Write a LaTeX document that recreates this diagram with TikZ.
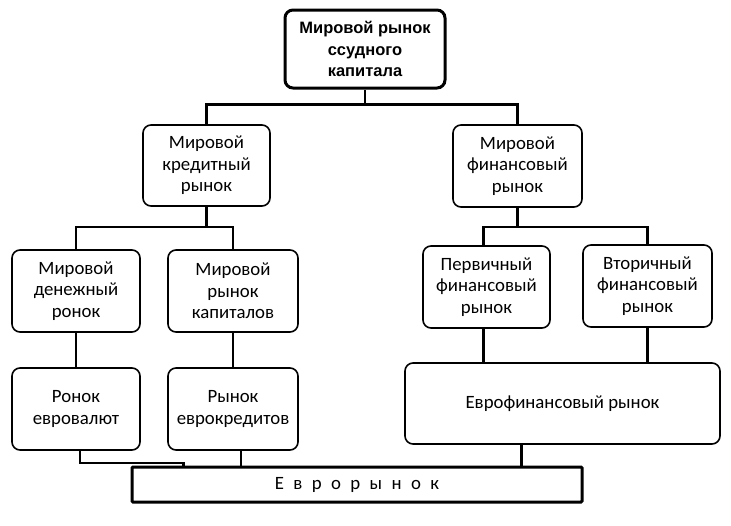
\documentclass[tikz,border=0pt]{standalone}
\usepackage{fontspec}
\setmainfont{Carlito}
\newfontfamily\headfont{Liberation Sans}
\usepackage{tikz}

\tikzset{
  box/.style={draw=black, line width=1.6pt, rounded corners=8pt, align=center,
    font=\fontsize{18.8}{21.5}\selectfont, inner sep=0pt},
  headbox/.style={box, line width=3pt, font=\headfont\bfseries\fontsize{16.5}{21.5}\selectfont},
  eurobox/.style={draw=black, line width=3pt, rounded corners=1pt, inner sep=0pt,
    font=\fontsize{18.8}{21.5}\selectfont},
  conn/.style={draw=black, line width=2.6pt}
}

\begin{document}
\begin{tikzpicture}[x=1pt, y=-1pt]
        \useasboundingbox (0,0) rectangle (731,525);
        % top level
        \node[headbox, minimum width=160, minimum height=78] (world) at (365,49)
        {Мировой рынок\\ссудного\\капитала};
        \node[box, minimum width=127, minimum height=81] (credit) at (206.5,165.5)
        {Мировой\\кредитный\\рынок};
        \node[box, minimum width=129, minimum height=82] (finance) at (517.5,166)
        {Мировой\\финансовый\\рынок};
        % third row
        \node[box, minimum width=128, minimum height=82] (money) at (76,291)
        {Мировой\\денежный\\ронок};
        \node[box, minimum width=130, minimum height=82] (capital) at (233,291)
        {Мировой\\рынок\\капиталов};
        \node[box, minimum width=127, minimum height=82] (primary) at (486.5,287)
        {Первичный\\финансовый\\рынок};
        \node[box, minimum width=129, minimum height=82] (secondary) at (647.5,286)
        {Вторичный\\финансовый\\рынок};
        % euro row
        \node[box, minimum width=128, minimum height=82] (eurocur) at (76,409)
        {Ронок\\евровалют};
        \node[box, minimum width=130, minimum height=82] (eurocred) at (233,409)
        {Рынок\\еврокредитов};
        \node[box, minimum width=315, minimum height=81] (eurofin) at (562.5,403.5)
        {Еврофинансовый рынок};
        \node[eurobox, minimum width=450, minimum height=35] (euromkt) at (357,484.5)
        {Е\hspace{0.5em}в\hspace{0.5em}р\hspace{0.5em}о\hspace{0.5em}р\hspace{0.5em}ы\hspace{0.5em}н\hspace{0.5em}о\hspace{0.5em}к};
        % connectors
        \draw[conn] (world.south) -- ++(0,15) -| (credit.north);
        \draw[conn] (world.south) ++(0,15) -| (finance.north);
        \draw[conn] (credit.south) -- ++(0,20) -| (money.north);
        \draw[conn] (credit.south) ++(0,20) -| (capital.north);
        \draw[conn] (finance.south) -- ++(0,19) -| ([xshift=-3]primary.north);
        \draw[conn] (finance.south) ++(0,19) -| (secondary.north);
        \draw[conn] (money.south) -- (eurocur.north);
        \draw[conn] (capital.south) -- (eurocred.north);
        \draw[conn] ([xshift=-3]primary.south) -- ([xshift=-3]primary.south |- eurofin.north);
        \draw[conn] (secondary.south) -- (secondary.south |- eurofin.north);
        \draw[conn] ([xshift=4]eurocur.south) -- ++(0,12) -| ([xshift=53]euromkt.north west);
        \draw[conn] ([xshift=8]eurocred.south) -- ([xshift=8]eurocred.south |- euromkt.north);
        \draw[conn] ([xshift=-41]eurofin.south) -- ([xshift=-41]eurofin.south |- euromkt.north);
\end{tikzpicture}
\end{document}
